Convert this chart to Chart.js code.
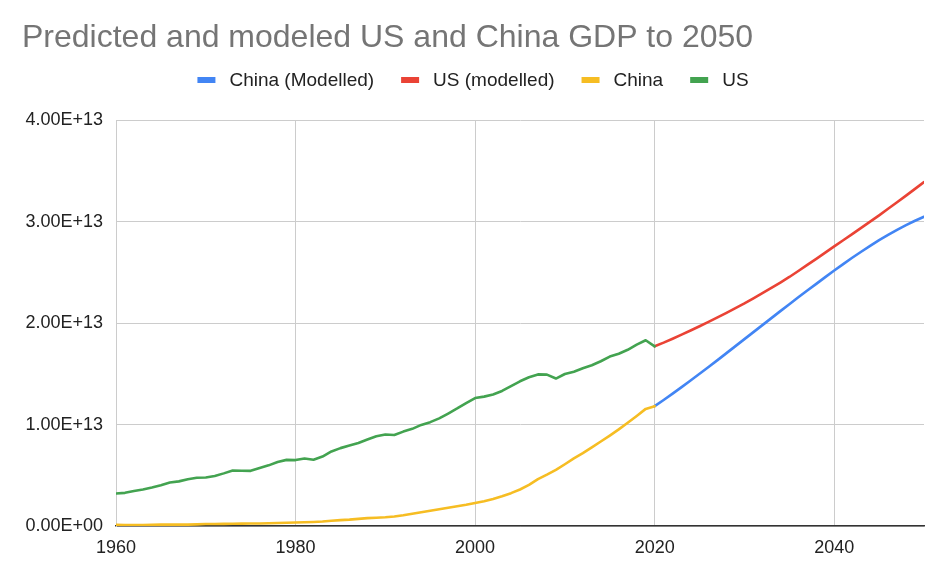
<!DOCTYPE html>
<html>
<head>
<meta charset="utf-8">
<script src="https://cdn.jsdelivr.net/npm/chart.js@4.4.1/dist/chart.umd.min.js"></script>
<style>
  html, body { margin: 0; padding: 0; background: #ffffff; }
  #wrap { width: 952px; height: 580px; position: relative; }
</style>
</head>
<body>
<div id="wrap"><canvas id="c" width="952" height="580"></canvas></div>
<script>
// ---- Data (values in trillions of US$, constant prices) ----
const TITLE = "Predicted and modeled US and China GDP to 2050";
const UNIT = 1e12;

const histYears = [1960,1961,1962,1963,1964,1965,1966,1967,1968,1969,
  1970,1971,1972,1973,1974,1975,1976,1977,1978,1979,
  1980,1981,1982,1983,1984,1985,1986,1987,1988,1989,
  1990,1991,1992,1993,1994,1995,1996,1997,1998,1999,
  2000,2001,2002,2003,2004,2005,2006,2007,2008,2009,
  2010,2011,2012,2013,2014,2015,2016,2017,2018,2019,2020];

const usGDP = [3.20,3.27,3.45,3.60,3.80,4.03,4.29,4.40,4.61,4.76,
  4.78,4.93,5.19,5.48,5.45,5.44,5.72,5.98,6.31,6.52,
  6.50,6.66,6.54,6.85,7.35,7.68,7.93,8.19,8.53,8.85,
  9.03,8.97,9.31,9.58,9.97,10.24,10.61,11.09,11.59,12.12,
  12.62,12.76,12.97,13.32,13.80,14.27,14.67,14.95,14.93,14.54,
  14.99,15.22,15.56,15.85,16.25,16.71,16.99,17.38,17.89,18.32,17.72];

const chinaGDP = [0.13,0.10,0.09,0.10,0.12,0.14,0.15,0.14,0.14,0.16,
  0.19,0.20,0.21,0.22,0.23,0.25,0.25,0.27,0.30,0.32,
  0.35,0.37,0.40,0.44,0.51,0.58,0.63,0.70,0.78,0.82,
  0.86,0.94,1.06,1.20,1.35,1.50,1.65,1.80,1.94,2.09,
  2.27,2.45,2.67,2.94,3.24,3.60,4.05,4.62,5.06,5.53,
  6.09,6.67,7.19,7.75,8.33,8.92,9.53,10.18,10.85,11.55,11.82];

const modelYears = [2020,2021,2022,2023,2024,2025,2026,2027,2028,2029,
  2030,2031,2032,2033,2034,2035,2036,2037,2038,2039,
  2040,2041,2042,2043,2044,2045,2046,2047,2048,2049,2050];

const usModelled = [17.72,18.08,18.47,18.87,19.28,19.70,20.13,20.57,21.02,21.48,
  21.95,22.45,22.96,23.48,24.01,24.56,25.15,25.75,26.35,26.96,
  27.58,28.18,28.79,29.40,30.02,30.64,31.28,31.93,32.58,33.25,33.92];

const chinaModelled = [11.82,12.43,13.06,13.70,14.35,15.01,15.68,16.36,17.05,17.74,
  18.43,19.12,19.81,20.50,21.19,21.87,22.55,23.22,23.88,24.54,
  25.19,25.83,26.45,27.05,27.63,28.19,28.71,29.21,29.67,30.10,30.50];

const seriesNames = ["China (Modelled)", "US (modelled)", "China", "US"];
const seriesColors = ["#4285F4", "#EA4335", "#F6BD23", "#43A350"];

const xTicks = [1960, 1980, 2000, 2020, 2040];
const yTicks = [0, 1e13, 2e13, 3e13, 4e13];

// ---- Build datasets ----
function pts(xs, ys) { return xs.map((x, i) => ({ x: x, y: ys[i] * UNIT })); }

const FONT = "'Liberation Sans', Arial, Helvetica, sans-serif";

function mk(i, data, order) {
  return {
    label: seriesNames[i],
    data: data,
    borderColor: seriesColors[i],
    backgroundColor: seriesColors[i],
    borderWidth: 2.6,
    pointRadius: 0,
    pointHoverRadius: 0,
    tension: 0,
    fill: false,
    order: order,
    borderJoinStyle: 'round',
    borderCapStyle: 'round'
  };
}

const datasets = [
  mk(0, pts(modelYears, chinaModelled), 4),
  mk(1, pts(modelYears, usModelled), 3),
  mk(2, pts(histYears, chinaGDP), 2),
  mk(3, pts(histYears, usGDP), 1)
];

function fmtExp(v) {
  let s = Number(v).toExponential(2).toUpperCase(); // e.g. 4.00E+13, 0.00E+0
  return s.replace(/E([+-])(\d)$/, 'E$10$2');
}

// Custom legend drawn on the canvas, centered horizontally
const legendPlugin = {
  id: 'gLegend',
  afterDraw(chart) {
    const ctx = chart.ctx;
    ctx.save();
    ctx.font = "19px " + FONT;
    ctx.textBaseline = 'middle';
    ctx.textAlign = 'left';
    const boxW = 18, boxH = 6, gapBT = 14, gapItem = 27;
    const ds = chart.data.datasets;
    let widths = ds.map(d => ctx.measureText(d.label).width);
    let total = 0;
    widths.forEach((w, i) => { total += boxW + gapBT + w + (i < widths.length - 1 ? gapItem : 0); });
    let x = 473 - total / 2;
    const yc = 80;
    ds.forEach((d, i) => {
      ctx.fillStyle = d.borderColor;
      ctx.fillRect(x, yc - boxH / 2, boxW, boxH);
      ctx.fillStyle = '#222222';
      ctx.fillText(d.label, x + boxW + gapBT, yc + 1);
      x += boxW + gapBT + widths[i] + gapItem;
    });
    ctx.restore();
  }
};

new Chart(document.getElementById('c'), {
  type: 'line',
  data: { datasets: datasets },
  plugins: [legendPlugin],
  options: {
    responsive: false,
    animation: false,
    devicePixelRatio: 1,
    layout: { padding: { left: 22, right: 28, top: 0, bottom: 0 } },
    plugins: {
      legend: { display: false },
      tooltip: { enabled: false },
      title: {
        display: true,
        text: TITLE,
        align: 'start',
        color: '#757575',
        font: { family: FONT, size: 32, weight: 'normal' },
        padding: { top: 19, bottom: 63 }
      }
    },
    scales: {
      x: {
        type: 'linear',
        min: 1960,
        max: 2050,
        afterBuildTicks(scale) { scale.ticks = xTicks.map(v => ({ value: v })); },
        afterFit(scale) { scale.height = 54; },
        ticks: {
          color: '#222222',
          font: { family: FONT, size: 18 },
          padding: 11,
          maxRotation: 0,
          autoSkip: false,
          callback: v => String(v)
        },
        grid: { color: '#cccccc', lineWidth: 1, drawTicks: false },
        border: { color: '#333333', width: 1.5 }
      },
      y: {
        type: 'linear',
        min: 0,
        max: 4e13,
        afterBuildTicks(scale) { scale.ticks = yTicks.map(v => ({ value: v })); },
        afterFit(scale) { scale.width = 94; },
        ticks: {
          color: '#222222',
          font: { family: FONT, size: 18 },
          padding: 13,
          callback: v => fmtExp(v)
        },
        grid: { color: '#cccccc', lineWidth: 1, drawTicks: false },
        border: { color: '#cccccc', width: 1 }
      }
    }
  }
});
</script>
</body>
</html>
